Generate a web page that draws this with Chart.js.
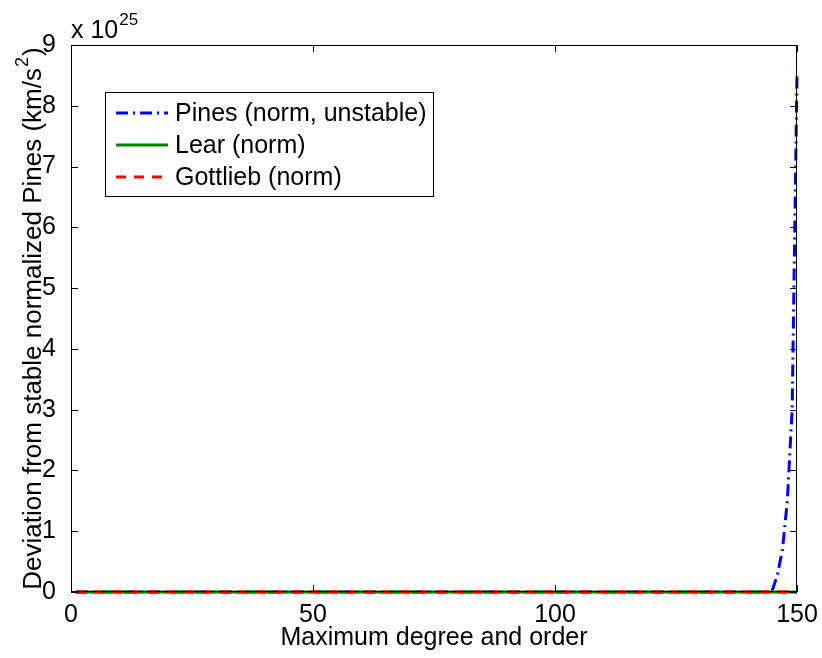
<!DOCTYPE html>
<html>
<head>
<meta charset="utf-8">
<script src="https://cdn.jsdelivr.net/npm/chart.js@4.4.1/dist/chart.umd.min.js"></script>
<style>
  html, body { margin: 0; padding: 0; background: #fff; }
  #wrap { width: 822px; height: 658px; }
</style>
</head>
<body>
<div id="wrap"><canvas id="chart" width="822" height="658"></canvas></div>
<script>
// values (units: km/s^2)
const pinesDegrees = [1, 144, 145, 146, 147, 148, 149, 150];
const pinesDev = [0, 0, 0.05e25, 0.3e25, 0.7e25, 1.5e25, 3.0e25, 8.5e25];
const learDegrees = [1, 150];
const learDev = [0, 0];
const gottliebDegrees = [1, 150];
const gottliebDev = [0, 0];

const xTicks = [0, 50, 100, 150];
const yTicks = [0, 1e25, 2e25, 3e25, 4e25, 5e25, 6e25, 7e25, 8e25, 9e25];
const yTickLabels = ["0", "1", "2", "3", "4", "5", "6", "7", "8", "9"];

const FONT = "Liberation Sans, Arial, Helvetica, sans-serif";
const FS = 25;

const toPoints = (xs, ys) => xs.map((d, i) => ({ x: d, y: ys[i] }));

const series = [
  { label: "Pines (norm, unstable)", xs: pinesDegrees, ys: pinesDev, color: "#0000ff", dash: [12, 5, 2, 5], order: 3 },
  { label: "Lear (norm)", xs: learDegrees, ys: learDev, color: "#008000", dash: [], order: 2 },
  { label: "Gottlieb (norm)", xs: gottliebDegrees, ys: gottliebDev, color: "#ff0000", dash: [10, 8], order: 1 }
];

// box, inward ticks, exponent, y title, legend
const matlabFrame = {
  id: "matlabFrame",
  afterDatasetsDraw(chart) {
    const { ctx, chartArea: a, scales: { x, y } } = chart;
    ctx.save();
    ctx.strokeStyle = "#000";
    ctx.lineWidth = 1;
    ctx.beginPath();
    xTicks.forEach(v => {
      const px = Math.round(x.getPixelForValue(v)) + 0.5;
      ctx.moveTo(px, a.bottom); ctx.lineTo(px, a.bottom - 7);
      ctx.moveTo(px, a.top); ctx.lineTo(px, a.top + 7);
    });
    yTicks.forEach(v => {
      const py = Math.round(y.getPixelForValue(v)) + 0.5;
      ctx.moveTo(a.left, py); ctx.lineTo(a.left + 7, py);
      ctx.moveTo(a.right, py); ctx.lineTo(a.right - 7, py);
    });
    ctx.stroke();
    ctx.strokeRect(a.left + 0.5, a.top + 0.5, a.width - 1, a.height - 1);
    ctx.restore();
  },
  afterDraw(chart) {
    const { ctx, chartArea: a } = chart;
    ctx.save();
    ctx.fillStyle = "#000";
    ctx.textBaseline = "alphabetic";
    ctx.textAlign = "left";

    // exponent label
    ctx.font = FS + "px " + FONT;
    ctx.fillText("x 10", a.left, 38);
    const w10 = ctx.measureText("x 10").width;
    ctx.font = "17px " + FONT;
    ctx.fillText("25", a.left + w10 + 1, 25);

    // y axis title with superscript
    const main = "Deviation from stable normalized Pines (km/s";
    const yf = "26px " + FONT;
    ctx.font = yf;
    const wMain = ctx.measureText(main).width;
    const wClose = ctx.measureText(")").width;
    ctx.font = "18px " + FONT;
    const wSup = ctx.measureText("2").width;
    const total = wMain + wSup + 2 + wClose;
    ctx.translate(41, (a.top + a.bottom) / 2 + total / 2);
    ctx.rotate(-Math.PI / 2);
    ctx.font = yf;
    ctx.fillText(main, 0, 0);
    ctx.font = "18px " + FONT;
    ctx.fillText("2", wMain + 1, -13);
    ctx.font = yf;
    ctx.fillText(")", wMain + wSup + 2, 0);
    ctx.setTransform(1, 0, 0, 1, 0, 0);

    // x axis title
    ctx.font = FS + "px " + FONT;
    ctx.textAlign = "center";
    ctx.fillText("Maximum degree and order", (a.left + a.right) / 2, 645);

    // legend
    const bx = 105, by = 92, bw = 328, bh = 104;
    ctx.fillStyle = "#fff";
    ctx.fillRect(bx, by, bw, bh);
    ctx.strokeStyle = "#000";
    ctx.lineWidth = 1;
    ctx.strokeRect(bx + 0.5, by + 0.5, bw, bh);
    ctx.textAlign = "left";
    ctx.textBaseline = "middle";
    ctx.font = FS + "px " + FONT;
    series.forEach((s, i) => {
      const ry = 113 + i * 32;
      ctx.strokeStyle = s.color;
      ctx.lineWidth = 3;
      ctx.setLineDash(s.dash);
      ctx.beginPath();
      ctx.moveTo(116, ry); ctx.lineTo(168, ry);
      ctx.stroke();
      ctx.setLineDash([]);
      ctx.fillStyle = "#000";
      ctx.fillText(s.label, 175, ry + 1);
    });
    ctx.restore();
  }
};

new Chart(document.getElementById("chart"), {
  type: "line",
  data: {
    datasets: series.map(s => ({
      label: s.label,
      data: toPoints(s.xs, s.ys),
      borderColor: s.color,
      backgroundColor: s.color,
      borderWidth: 3,
      borderDash: s.dash,
      pointRadius: 0,
      tension: 0,
      fill: false,
      clip: false,
      order: s.order
    }))
  },
  options: {
    responsive: false,
    animation: false,
    devicePixelRatio: 1,
    layout: { padding: { left: 0, right: 25, top: 45, bottom: 0 } },
    plugins: {
      legend: { display: false },
      tooltip: { enabled: false }
    },
    scales: {
      x: {
        type: "linear",
        min: 0,
        max: 150,
        afterBuildTicks: scale => { scale.ticks = xTicks.map(v => ({ value: v })); },
        afterFit: scale => { scale.height = 66; },
        grid: { display: false },
        border: { display: false },
        ticks: {
          color: "#000",
          font: { family: FONT, size: FS },
          padding: 0,
          maxRotation: 0,
          callback: v => String(v)
        }
      },
      y: {
        type: "linear",
        min: 0,
        max: 9e25,
        afterBuildTicks: scale => { scale.ticks = yTicks.map(v => ({ value: v })); },
        afterFit: scale => { scale.width = 71; },
        grid: { display: false },
        border: { display: false },
        ticks: {
          color: "#000",
          font: { family: FONT, size: FS },
          padding: 7,
          callback: (v, i) => yTickLabels[i]
        }
      }
    }
  },
  plugins: [matlabFrame]
});
</script>
</body>
</html>
